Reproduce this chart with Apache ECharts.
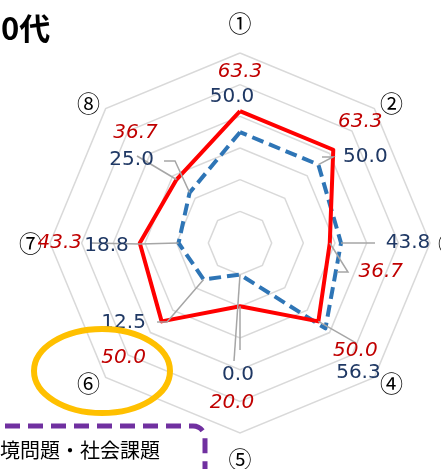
<!DOCTYPE html>
<html><head><meta charset="utf-8">
<script src="https://cdn.jsdelivr.net/npm/echarts@6/dist/echarts.min.js"></script>
<style>html,body{margin:0;padding:0;background:#fff;overflow:hidden}#c{width:441px;height:469px}</style>
</head><body><div id="c"></div>
<script>
// ---- data ----
const axisNames = ['①','②','③','④','⑤','⑥','⑦','⑧'];
const redValues = [63.3, 63.3, 36.7, 50.0, 20.0, 50.0, 43.3, 36.7];
const blueValues = [50.0, 50.0, 43.8, 56.3, 0.0, 12.5, 18.8, 25.0];
const scaleMin = -20;
const scaleMax = 100;
const scaleSplits = 6;
const titleText = '0代';
const noteText = '境問題・社会課題';

// ---- layout (pixels) ----
const CX = 240, CY = 243, R = 190;
const PX_PER_UNIT = R / (scaleMax - scaleMin);
const SPAN = scaleMax - scaleMin;
const redLabelOffsets  = [[0,-39],[27,-28],[51,29],[37,29],[-8,96],[-38,36],[-80,0],[-41,-47]];
const blueLabelOffsets = [[-8,-35],[47,-8],[67,0],[33,44],[-2,100],[-80,43],[-72,3],[-58,-33]];
const leaderOffsets = [
  ['blue',7,[[-25.6,-31.6],[-14.6,-31.6]]],
  ['red',7,[[-39.5,-23.5]]],
  ['blue',6,[[-88.6,0],[-38.6,1]]],
  ['blue',5,[[-46.6,42.6],[-36.6,42.6]]],
  ['blue',4,[[-6,86.3]]],
  ['red',4,[[0,43.7]]],
  ['red',3,[[37.6,21.6]]],
  ['blue',2,[[34,0]]],
  ['red',2,[[7.2,29],[18.2,29]]],
  ['blue',1,[[3.6,-7.6],[14.6,-7.6]]]
];

const n = axisNames.length;
// ECharts radar lays indicators counter-clockwise; reorder so they read clockwise
const order = [0].concat(Array.from({length: n-1}, (_, i) => n-1-i));
const reorder = arr => order.map(i => arr[i]);

function vertexUnits(k, v) {
  const r = v - scaleMin;
  const a = (90 - k * 360 / n) * Math.PI / 180;
  return [r * Math.cos(a), r * Math.sin(a)];
}
function shiftUnits(p, d) {
  return [p[0] + d[0] / PX_PER_UNIT, p[1] - d[1] / PX_PER_UNIT];
}
const seriesVals = {red: redValues, blue: blueValues};

const labelFont = 'DejaVu Sans';
function labelData(vals, offs) {
  return vals.map((v, k) => ({
    value: vertexUnits(k, v),
    label: {offset: offs[k], formatter: v.toFixed(1)}
  }));
}

const leaderData = leaderOffsets.map(([key, k, pts]) => {
  const vtx = vertexUnits(k, seriesVals[key][k]);
  return {coords: pts.map(d => shiftUnits(vtx, d)).concat([vtx])};
});

const nameStyle = {fontSize: 23, fontFamily: 'Noto Sans CJK JP', color: '#000'};
const chart = echarts.init(document.getElementById('c'), null, {renderer: 'canvas'});
chart.setOption({
  animation: false,
  backgroundColor: '#fff',
  radar: {
    center: [CX, CY],
    radius: R,
    shape: 'polygon',
    startAngle: 90,
    splitNumber: scaleSplits,
    indicator: reorder(axisNames).map(name => ({name, min: scaleMin, max: scaleMax})),
    axisNameGap: 8,
    axisName: Object.assign({
      formatter: (name) => {
        const k = axisNames.indexOf(name);
        if (k === 0) return '{t|' + name + '}';
        if (k === 4) return '{b|' + name + '}';
        return '{m|' + name + '}';
      },
      rich: {
        t: Object.assign({padding: [0, 0, 10, 0]}, nameStyle),
        b: Object.assign({padding: [7, 0, 0, 0]}, nameStyle),
        m: Object.assign({}, nameStyle)
      }
    }, nameStyle),
    splitLine: {lineStyle: {color: '#D9D9D9', width: 1.5}},
    splitArea: {show: false},
    axisLine: {show: false},
    axisTick: {show: false},
    axisLabel: {show: false}
  },
  grid: {left: CX - R, top: CY - R, width: 2 * R, height: 2 * R, show: false},
  xAxis: {type: 'value', min: -SPAN, max: SPAN, show: false},
  yAxis: {type: 'value', min: -SPAN, max: SPAN, show: false},
  series: [
    {
      type: 'radar', z: 2, symbol: 'none', silent: true,
      data: [{value: reorder(blueValues), name: 'blue'}],
      lineStyle: {color: '#2E75B6', width: 4, type: [12, 6]}
    },
    {
      type: 'radar', z: 3, symbol: 'none', silent: true,
      data: [{value: reorder(redValues), name: 'red'}],
      lineStyle: {color: '#FF0000', width: 4}
    },
    {
      type: 'lines', coordinateSystem: 'cartesian2d', polyline: true, z: 4, silent: true,
      lineStyle: {color: '#A6A6A6', width: 1.5, opacity: 1},
      data: leaderData
    },
    {
      type: 'scatter', z: 5, silent: true, symbolSize: 1,
      itemStyle: {color: 'rgba(0,0,0,0)', opacity: 1},
      label: {show: true, position: 'inside', align: 'center', verticalAlign: 'middle', opacity: 1,
        color: '#C00000', fontStyle: 'italic', fontSize: 20, fontFamily: labelFont},
      data: labelData(redValues, redLabelOffsets)
    },
    {
      type: 'scatter', z: 5, silent: true, symbolSize: 1,
      itemStyle: {color: 'rgba(0,0,0,0)', opacity: 1},
      label: {show: true, position: 'inside', align: 'center', verticalAlign: 'middle', opacity: 1,
        color: '#1F3864', fontSize: 20, fontFamily: labelFont},
      data: labelData(blueValues, blueLabelOffsets)
    }
  ],
  graphic: [
    {type: 'text', x: 1, y: 28, z: 10,
      style: {text: titleText, font: 'bold 31px "Noto Sans CJK JP"', fill: '#000', align: 'left', verticalAlign: 'middle'}},
    {type: 'ellipse', z: 10, shape: {cx: 102, cy: 371, rx: 68, ry: 42},
      style: {fill: 'none', stroke: '#FFC000', lineWidth: 6}},
    {type: 'rect', z: 10, shape: {x: -30, y: 426, width: 235, height: 90, r: 12},
      style: {fill: 'none', stroke: '#7030A0', lineWidth: 5, lineDash: [15, 8]}},
    {type: 'text', x: 0, y: 450, z: 10,
      style: {text: noteText, font: '20px "Noto Sans CJK JP"', fill: '#000', align: 'left', verticalAlign: 'middle'}}
  ]
});
</script>
</body></html>
